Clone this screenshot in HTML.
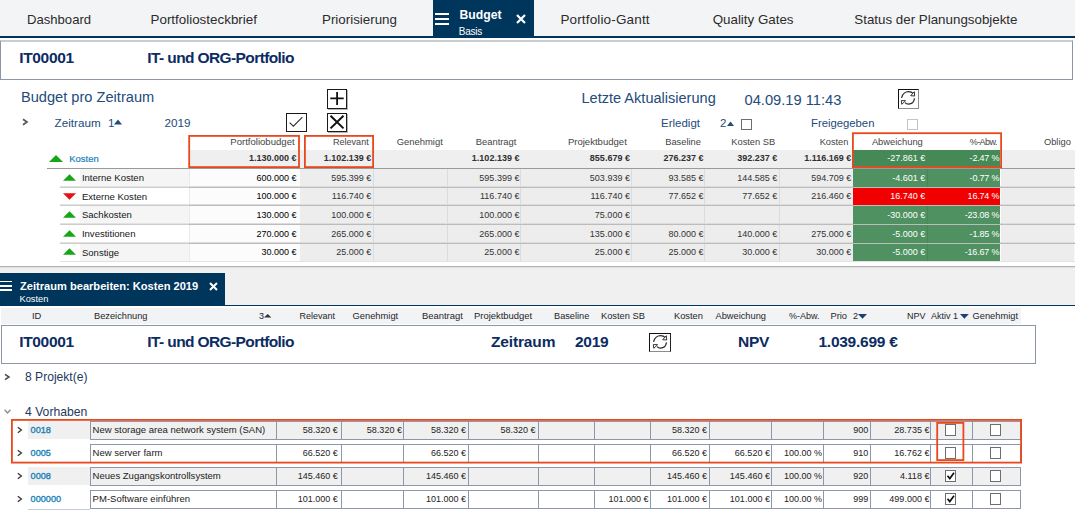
<!DOCTYPE html>
<html><head><meta charset="utf-8"><title>Budget</title>
<style>
html,body{margin:0;padding:0;}
body{width:1075px;height:514px;overflow:hidden;background:#fff;position:relative;font-family:"Liberation Sans",sans-serif;}
div{position:absolute;box-sizing:border-box;}
.t{position:absolute;white-space:pre;line-height:20px;height:20px;}
svg{position:absolute;overflow:visible;}
.cb{border:1px solid #6e6e6e;background:#fff;}
.cbd{border:1px solid #c4c4c4;background:#fff;}
.ib{border:1px solid #1a1a1a;background:#fff;}
.sh{box-shadow:1px 1px 0 #b4b4b4;}
.rb{border:1px solid;border-color:#111 #8c8c8c #8c8c8c #111;background:#fff;}
</style></head><body>
<div style="left:0px;top:0px;width:1075px;height:36px;background:#f3f4f6;"></div>
<div style="left:0px;top:36px;width:1075px;height:2px;background:#00355c;"></div>
<div style="left:433px;top:0px;width:101px;height:37px;background:#00355c;"></div>
<span class="t" style="top:10px;font-size:13.1px;color:#2b2b2b;left:27px;">Dashboard</span>
<span class="t" style="top:10px;font-size:13.4px;color:#2b2b2b;left:150.5px;">Portfoliosteckbrief</span>
<span class="t" style="top:10px;font-size:13.35px;color:#2b2b2b;left:322px;">Priorisierung</span>
<span class="t" style="top:10px;font-size:13.5px;color:#2b2b2b;letter-spacing:0.15px;left:560.4px;">Portfolio-Gantt</span>
<span class="t" style="top:10px;font-size:13.35px;color:#2b2b2b;left:712.7px;">Quality Gates</span>
<span class="t" style="top:10px;font-size:13.35px;color:#2b2b2b;left:854.3px;">Status der Planungsobjekte</span>
<div style="left:435px;top:13px;width:14px;height:2px;background:#fff;"></div>
<div style="left:435px;top:18px;width:14px;height:2px;background:#fff;"></div>
<div style="left:435px;top:23px;width:14px;height:2px;background:#fff;"></div>
<span class="t" style="top:5px;font-size:12.2px;color:#fff;font-weight:700;left:459.5px;">Budget</span>
<span class="t" style="top:22px;font-size:10px;color:#fff;letter-spacing:-0.28px;left:458.8px;">Basis</span>
<svg style="left:516px;top:14px" width="10" height="10" viewBox="0 0 10 10"><path d="M1 1 L9 9 M9 1 L1 9" stroke="#fff" stroke-width="2.2" fill="none"/></svg>
<div style="left:0px;top:40px;width:1073px;height:39.5px;background:#fff;border:1px solid #8d96a8;border-top:2px solid #c9ccd2;"></div>
<span class="t" style="top:48px;font-size:15.5px;color:#0b2c62;font-weight:700;letter-spacing:-0.325px;left:19.2px;">IT00001</span>
<span class="t" style="top:48px;font-size:15.5px;color:#0b2c62;font-weight:700;letter-spacing:-0.604px;left:147.3px;">IT- und ORG-Portfolio</span>
<span class="t" style="top:87px;font-size:14.62px;color:#234b7b;left:21px;">Budget pro Zeitraum</span>
<svg style="left:22.3px;top:117.8px" width="7" height="8" viewBox="0 0 7 8"><path d="M1 1.3 L5 4 L1 6.7" stroke="#555" stroke-width="1.7" fill="none"/></svg>
<span class="t" style="top:113px;font-size:11.7px;color:#234b7b;left:54.5px;">Zeitraum</span>
<span class="t" style="top:113px;font-size:11.7px;color:#234b7b;left:108px;">1</span>
<svg style="left:114px;top:119px" width="8" height="6" viewBox="0 0 8 6"><path d="M0 5.5 L4 0.5 L8 5.5 Z" fill="#234b7b"/></svg>
<span class="t" style="top:113px;font-size:11.7px;color:#234b7b;left:164.5px;">2019</span>
<div class="ib sh" style="left:327px;top:89px;width:20px;height:19.5px;"></div>
<svg style="left:327px;top:89px" width="20" height="19" viewBox="0 0 20 19"><path d="M10.1 3 V16 M3.3 9.4 H16.7" stroke="#111" stroke-width="1.8" fill="none"/></svg>
<div class="ib sh" style="left:327px;top:113px;width:20px;height:19px;"></div>
<svg style="left:327px;top:113px" width="20" height="19" viewBox="0 0 20 19"><path d="M3.5 2.8 L16.5 15.4 M16.5 2.8 L3.5 15.4" stroke="#111" stroke-width="2" fill="none"/></svg>
<div class="ib" style="left:286px;top:113px;width:21px;height:19px;"></div>
<svg style="left:286px;top:113px" width="21" height="19" viewBox="0 0 21 19"><path d="M3.6 9.6 L7.4 13.2 L16.4 4.2" stroke="#333" stroke-width="1.2" fill="none"/></svg>
<span class="t" style="top:88px;font-size:14.55px;color:#234b7b;left:581.5px;">Letzte Aktualisierung</span>
<span class="t" style="top:90px;font-size:14.7px;color:#234b7b;left:744.5px;">04.09.19 11:43</span>
<div class="rb" style="left:898px;top:89px;width:21px;height:19.5px;"></div>
<svg style="left:898px;top:89px" width="21" height="19" viewBox="0 0 21 19"><path d="M3.6 8.8 C4.4 4.8 7.6 2.7 10.6 2.7 C12.6 2.7 14.2 3.4 15.3 4.6 M16.5 9.3 C15.9 13 13.2 15 10.6 15 C9 15 7.8 14.4 7 13.6" stroke="#2a2a2a" stroke-width="1.25" fill="none"/><path d="M16.3 2.7 L16.7 7 L12.7 6.7 Z M3.3 11.6 L7.6 11.7 L3.8 15.3 Z" stroke="#333" stroke-width="1" fill="#fff" stroke-linejoin="round"/></svg>
<span class="t" style="top:113px;font-size:11.5px;color:#234b7b;left:661px;">Erledigt</span>
<span class="t" style="top:113px;font-size:11.5px;color:#234b7b;left:720px;">2</span>
<svg style="left:727px;top:120.5px" width="7" height="5" viewBox="0 0 7 5"><path d="M0 5 L3.5 0.5 L7 5 Z" fill="#234b7b"/></svg>
<div class="cb" style="left:741px;top:119px;width:11px;height:11px;"></div>
<span class="t" style="top:113px;font-size:11.3px;color:#234b7b;left:811px;">Freigegeben</span>
<div class="cbd" style="left:907px;top:118.6px;width:11px;height:11px;"></div>
<span class="t" style="top:132px;font-size:9.57px;color:#444;right:780.4px;">Portfoliobudget</span>
<span class="t" style="top:132px;font-size:9.05px;color:#444;right:706.3px;">Relevant</span>
<span class="t" style="top:132px;font-size:9.44px;color:#444;right:632.2px;">Genehmigt</span>
<span class="t" style="top:132px;font-size:9.39px;color:#444;right:558.6px;">Beantragt</span>
<span class="t" style="top:132px;font-size:9.56px;color:#444;right:448.2px;">Projektbudget</span>
<span class="t" style="top:132px;font-size:9.31px;color:#444;right:374.1px;">Baseline</span>
<span class="t" style="top:132px;font-size:9.31px;color:#444;right:299.8px;">Kosten SB</span>
<span class="t" style="top:132px;font-size:9.19px;color:#444;right:226.7px;">Kosten</span>
<span class="t" style="top:132px;font-size:9.36px;color:#444;right:152.2px;">Abweichung</span>
<span class="t" style="top:132px;font-size:9.0px;color:#444;letter-spacing:-0.55px;right:78.1px;">%-Abw.</span>
<span class="t" style="top:132px;font-size:9.31px;color:#444;right:4.2px;">Obligo</span>
<div style="left:189px;top:150px;width:886px;height:18px;background:#efefef;"></div>
<div style="left:853px;top:150px;width:147.3px;height:18px;background:#458a56;"></div>
<svg style="left:49px;top:154.5px" width="14" height="7" viewBox="0 0 14 7"><path d="M0 7 L7 0 L14 7 Z" fill="#16a616"/></svg>
<span class="t" style="top:149px;font-size:9.45px;color:#1a7fb9;left:69.3px;-webkit-text-stroke:0.2px #1a7fb9;">Kosten</span>
<span class="t" style="top:148px;font-size:9.0px;color:#303030;font-weight:700;right:778.4px;">1.130.000 €</span>
<span class="t" style="top:148px;font-size:9.0px;color:#303030;font-weight:700;right:703.8px;">1.102.139 €</span>
<span class="t" style="top:148px;font-size:9.0px;color:#303030;font-weight:700;right:555.6px;">1.102.139 €</span>
<span class="t" style="top:148px;font-size:9.0px;color:#303030;font-weight:700;right:445.1px;">855.679 €</span>
<span class="t" style="top:148px;font-size:9.0px;color:#303030;font-weight:700;right:371.5px;">276.237 €</span>
<span class="t" style="top:148px;font-size:9.0px;color:#303030;font-weight:700;right:297.8px;">392.237 €</span>
<span class="t" style="top:148px;font-size:9.0px;color:#303030;font-weight:700;right:223.8px;">1.116.169 €</span>
<span class="t" style="top:148px;font-size:9.0px;color:#fff;right:149.7px;">-27.861 €</span>
<span class="t" style="top:148px;font-size:9.0px;color:#fff;letter-spacing:-0.2px;right:75.8px;">-2.47 %</span>
<div style="left:80px;top:169px;width:109px;height:18px;background:#f5f5f5;"></div>
<div style="left:300px;top:169px;width:553px;height:18px;background:#ededed;"></div>
<div style="left:1001px;top:169px;width:73px;height:18px;background:#ededed;"></div>
<div style="left:1074px;top:169px;width:1px;height:18px;background:#fafafa;"></div>
<div style="left:189px;top:169px;width:111px;height:18px;background:#fcfcfc;border-left:1px solid #e9e9e9;"></div>
<div style="left:373px;top:169px;width:1px;height:18px;background:#dcdcdc;"></div>
<div style="left:447px;top:169px;width:1px;height:18px;background:#dcdcdc;"></div>
<div style="left:520px;top:169px;width:1px;height:18px;background:#dcdcdc;"></div>
<div style="left:631px;top:169px;width:1px;height:18px;background:#dcdcdc;"></div>
<div style="left:704px;top:169px;width:1px;height:18px;background:#dcdcdc;"></div>
<div style="left:779px;top:169px;width:1px;height:18px;background:#dcdcdc;"></div>
<div style="left:60px;top:186px;width:129px;height:1px;background:#e2e2e2;"></div>
<div style="left:60px;top:187px;width:129px;height:1px;background:#cdcdcd;"></div>
<div style="left:189px;top:186px;width:886px;height:1px;background:#dcdcdc;"></div>
<div style="left:189px;top:187px;width:886px;height:1px;background:#bcbcbc;"></div>
<div style="left:853px;top:169px;width:147.3px;height:18px;background:#4f9161;"></div>
<div style="left:927px;top:169px;width:1px;height:18px;background:#458757;"></div>
<svg style="left:63px;top:173.5px" width="13" height="7" viewBox="0 0 14 7"><path d="M0 7 L7 0 L14 7 Z" fill="#16a616"/></svg>
<span class="t" style="top:168px;font-size:9.55px;color:#151515;left:81.9px;">Interne Kosten</span>
<span class="t" style="top:168px;font-size:9.0px;color:#000;right:778.4px;">600.000 €</span>
<span class="t" style="top:168px;font-size:9.0px;color:#333;right:703.8px;">595.399 €</span>
<span class="t" style="top:168px;font-size:9.0px;color:#333;right:555.6px;">595.399 €</span>
<span class="t" style="top:168px;font-size:9.0px;color:#333;right:445.1px;">503.939 €</span>
<span class="t" style="top:168px;font-size:9.0px;color:#333;right:371.5px;">93.585 €</span>
<span class="t" style="top:168px;font-size:9.0px;color:#333;right:297.8px;">144.585 €</span>
<span class="t" style="top:168px;font-size:9.0px;color:#333;right:223.8px;">594.709 €</span>
<span class="t" style="top:168px;font-size:9.0px;color:#fff;right:149.7px;">-4.601 €</span>
<span class="t" style="top:168px;font-size:9.0px;color:#fff;letter-spacing:-0.2px;right:75.8px;">-0.77 %</span>
<div style="left:300px;top:188px;width:553px;height:17px;background:#ededed;"></div>
<div style="left:1001px;top:188px;width:73px;height:17px;background:#ededed;"></div>
<div style="left:1074px;top:188px;width:1px;height:17px;background:#fafafa;"></div>
<div style="left:189px;top:188px;width:111px;height:17px;background:#fcfcfc;border-left:1px solid #e9e9e9;"></div>
<div style="left:373px;top:188px;width:1px;height:17px;background:#dcdcdc;"></div>
<div style="left:447px;top:188px;width:1px;height:17px;background:#dcdcdc;"></div>
<div style="left:520px;top:188px;width:1px;height:17px;background:#dcdcdc;"></div>
<div style="left:631px;top:188px;width:1px;height:17px;background:#dcdcdc;"></div>
<div style="left:704px;top:188px;width:1px;height:17px;background:#dcdcdc;"></div>
<div style="left:779px;top:188px;width:1px;height:17px;background:#dcdcdc;"></div>
<div style="left:60px;top:204px;width:129px;height:1px;background:#e2e2e2;"></div>
<div style="left:60px;top:205px;width:129px;height:1px;background:#cdcdcd;"></div>
<div style="left:189px;top:204px;width:886px;height:1px;background:#dcdcdc;"></div>
<div style="left:189px;top:205px;width:886px;height:1px;background:#bcbcbc;"></div>
<div style="left:853px;top:188px;width:147.3px;height:17px;background:#f00000;"></div>
<svg style="left:63px;top:192.8px" width="13" height="7" viewBox="0 0 14 7"><path d="M0 0 L7 7 L14 0 Z" fill="#e81010"/></svg>
<span class="t" style="top:187px;font-size:9.55px;color:#151515;left:81.9px;">Externe Kosten</span>
<span class="t" style="top:186px;font-size:9.0px;color:#000;right:778.4px;">100.000 €</span>
<span class="t" style="top:186px;font-size:9.0px;color:#333;right:703.8px;">116.740 €</span>
<span class="t" style="top:186px;font-size:9.0px;color:#333;right:555.6px;">116.740 €</span>
<span class="t" style="top:186px;font-size:9.0px;color:#333;right:445.1px;">116.740 €</span>
<span class="t" style="top:186px;font-size:9.0px;color:#333;right:371.5px;">77.652 €</span>
<span class="t" style="top:186px;font-size:9.0px;color:#333;right:297.8px;">77.652 €</span>
<span class="t" style="top:186px;font-size:9.0px;color:#333;right:223.8px;">216.460 €</span>
<span class="t" style="top:186px;font-size:9.0px;color:#fff;right:149.7px;">16.740 €</span>
<span class="t" style="top:186px;font-size:9.0px;color:#fff;letter-spacing:-0.2px;right:75.8px;">16.74 %</span>
<div style="left:80px;top:206px;width:109px;height:18px;background:#f5f5f5;"></div>
<div style="left:300px;top:206px;width:553px;height:18px;background:#ededed;"></div>
<div style="left:1001px;top:206px;width:73px;height:18px;background:#ededed;"></div>
<div style="left:1074px;top:206px;width:1px;height:18px;background:#fafafa;"></div>
<div style="left:189px;top:206px;width:111px;height:18px;background:#fcfcfc;border-left:1px solid #e9e9e9;"></div>
<div style="left:373px;top:206px;width:1px;height:18px;background:#dcdcdc;"></div>
<div style="left:447px;top:206px;width:1px;height:18px;background:#dcdcdc;"></div>
<div style="left:520px;top:206px;width:1px;height:18px;background:#dcdcdc;"></div>
<div style="left:631px;top:206px;width:1px;height:18px;background:#dcdcdc;"></div>
<div style="left:704px;top:206px;width:1px;height:18px;background:#dcdcdc;"></div>
<div style="left:779px;top:206px;width:1px;height:18px;background:#dcdcdc;"></div>
<div style="left:60px;top:223px;width:129px;height:1px;background:#e2e2e2;"></div>
<div style="left:60px;top:224px;width:129px;height:1px;background:#cdcdcd;"></div>
<div style="left:189px;top:223px;width:886px;height:1px;background:#dcdcdc;"></div>
<div style="left:189px;top:224px;width:886px;height:1px;background:#bcbcbc;"></div>
<div style="left:853px;top:206px;width:147.3px;height:18px;background:#4f9161;"></div>
<div style="left:927px;top:206px;width:1px;height:18px;background:#458757;"></div>
<svg style="left:63px;top:210.5px" width="13" height="7" viewBox="0 0 14 7"><path d="M0 7 L7 0 L14 7 Z" fill="#16a616"/></svg>
<span class="t" style="top:205px;font-size:9.55px;color:#151515;left:81.9px;">Sachkosten</span>
<span class="t" style="top:205px;font-size:9.0px;color:#000;right:778.4px;">130.000 €</span>
<span class="t" style="top:205px;font-size:9.0px;color:#333;right:703.8px;">100.000 €</span>
<span class="t" style="top:205px;font-size:9.0px;color:#333;right:555.6px;">100.000 €</span>
<span class="t" style="top:205px;font-size:9.0px;color:#333;right:445.1px;">75.000 €</span>
<span class="t" style="top:205px;font-size:9.0px;color:#fff;right:149.7px;">-30.000 €</span>
<span class="t" style="top:205px;font-size:9.0px;color:#fff;letter-spacing:-0.2px;right:75.8px;">-23.08 %</span>
<div style="left:300px;top:225px;width:553px;height:18px;background:#ededed;"></div>
<div style="left:1001px;top:225px;width:73px;height:18px;background:#ededed;"></div>
<div style="left:1074px;top:225px;width:1px;height:18px;background:#fafafa;"></div>
<div style="left:189px;top:225px;width:111px;height:18px;background:#fcfcfc;border-left:1px solid #e9e9e9;"></div>
<div style="left:373px;top:225px;width:1px;height:18px;background:#dcdcdc;"></div>
<div style="left:447px;top:225px;width:1px;height:18px;background:#dcdcdc;"></div>
<div style="left:520px;top:225px;width:1px;height:18px;background:#dcdcdc;"></div>
<div style="left:631px;top:225px;width:1px;height:18px;background:#dcdcdc;"></div>
<div style="left:704px;top:225px;width:1px;height:18px;background:#dcdcdc;"></div>
<div style="left:779px;top:225px;width:1px;height:18px;background:#dcdcdc;"></div>
<div style="left:60px;top:242px;width:129px;height:1px;background:#e2e2e2;"></div>
<div style="left:60px;top:243px;width:129px;height:1px;background:#cdcdcd;"></div>
<div style="left:189px;top:242px;width:886px;height:1px;background:#dcdcdc;"></div>
<div style="left:189px;top:243px;width:886px;height:1px;background:#bcbcbc;"></div>
<div style="left:853px;top:225px;width:147.3px;height:18px;background:#4f9161;"></div>
<div style="left:927px;top:225px;width:1px;height:18px;background:#458757;"></div>
<svg style="left:63px;top:229.5px" width="13" height="7" viewBox="0 0 14 7"><path d="M0 7 L7 0 L14 7 Z" fill="#16a616"/></svg>
<span class="t" style="top:224px;font-size:9.55px;color:#151515;left:81.9px;">Investitionen</span>
<span class="t" style="top:224px;font-size:9.0px;color:#000;right:778.4px;">270.000 €</span>
<span class="t" style="top:224px;font-size:9.0px;color:#333;right:703.8px;">265.000 €</span>
<span class="t" style="top:224px;font-size:9.0px;color:#333;right:555.6px;">265.000 €</span>
<span class="t" style="top:224px;font-size:9.0px;color:#333;right:445.1px;">135.000 €</span>
<span class="t" style="top:224px;font-size:9.0px;color:#333;right:371.5px;">80.000 €</span>
<span class="t" style="top:224px;font-size:9.0px;color:#333;right:297.8px;">140.000 €</span>
<span class="t" style="top:224px;font-size:9.0px;color:#333;right:223.8px;">275.000 €</span>
<span class="t" style="top:224px;font-size:9.0px;color:#fff;right:149.7px;">-5.000 €</span>
<span class="t" style="top:224px;font-size:9.0px;color:#fff;letter-spacing:-0.2px;right:75.8px;">-1.85 %</span>
<div style="left:80px;top:244px;width:109px;height:17px;background:#f5f5f5;"></div>
<div style="left:300px;top:244px;width:553px;height:17px;background:#ededed;"></div>
<div style="left:1001px;top:244px;width:73px;height:17px;background:#ededed;"></div>
<div style="left:1074px;top:244px;width:1px;height:17px;background:#fafafa;"></div>
<div style="left:189px;top:244px;width:111px;height:17px;background:#fcfcfc;border-left:1px solid #e9e9e9;"></div>
<div style="left:373px;top:244px;width:1px;height:17px;background:#dcdcdc;"></div>
<div style="left:447px;top:244px;width:1px;height:17px;background:#dcdcdc;"></div>
<div style="left:520px;top:244px;width:1px;height:17px;background:#dcdcdc;"></div>
<div style="left:631px;top:244px;width:1px;height:17px;background:#dcdcdc;"></div>
<div style="left:704px;top:244px;width:1px;height:17px;background:#dcdcdc;"></div>
<div style="left:779px;top:244px;width:1px;height:17px;background:#dcdcdc;"></div>
<div style="left:60px;top:261px;width:1015px;height:1px;background:#e2e2e2;"></div>
<div style="left:853px;top:244px;width:147.3px;height:17px;background:#4f9161;"></div>
<div style="left:927px;top:244px;width:1px;height:17px;background:#458757;"></div>
<svg style="left:63px;top:248.0px" width="13" height="7" viewBox="0 0 14 7"><path d="M0 7 L7 0 L14 7 Z" fill="#16a616"/></svg>
<span class="t" style="top:243px;font-size:9.55px;color:#151515;left:81.9px;">Sonstige</span>
<span class="t" style="top:242px;font-size:9.0px;color:#000;right:778.4px;">30.000 €</span>
<span class="t" style="top:242px;font-size:9.0px;color:#333;right:703.8px;">25.000 €</span>
<span class="t" style="top:242px;font-size:9.0px;color:#333;right:555.6px;">25.000 €</span>
<span class="t" style="top:242px;font-size:9.0px;color:#333;right:445.1px;">25.000 €</span>
<span class="t" style="top:242px;font-size:9.0px;color:#333;right:371.5px;">25.000 €</span>
<span class="t" style="top:242px;font-size:9.0px;color:#333;right:297.8px;">30.000 €</span>
<span class="t" style="top:242px;font-size:9.0px;color:#333;right:223.8px;">30.000 €</span>
<span class="t" style="top:242px;font-size:9.0px;color:#fff;right:149.7px;">-5.000 €</span>
<span class="t" style="top:242px;font-size:9.0px;color:#fff;letter-spacing:-0.2px;right:75.8px;">-16.67 %</span>
<div style="left:47px;top:168px;width:1028px;height:1px;background:#9a9a9a;"></div>
<svg style="left:0;top:0" width="1075" height="514"><rect x="189.20000000000002" y="135.9" width="109.8" height="31.2" fill="none" stroke="#e8481c" stroke-width="1.8"/></svg>
<svg style="left:0;top:0" width="1075" height="514"><rect x="304.9" y="135.9" width="68.2" height="31.2" fill="none" stroke="#e8481c" stroke-width="1.8"/></svg>
<svg style="left:0;top:0" width="1075" height="514"><rect x="852.9" y="133.20000000000002" width="148.2" height="33.900000000000006" fill="none" stroke="#e8481c" stroke-width="1.8"/></svg>
<div style="left:0px;top:265.6px;width:1075px;height:1.2px;background:#b4b4b8;"></div>
<div style="left:0px;top:266.8px;width:1075px;height:1px;background:#e0e0e0;"></div>
<div style="left:0px;top:267.8px;width:1075px;height:37px;background:#f0f0f0;"></div>
<div style="left:0px;top:304.5px;width:1075px;height:1.8px;background:#00355c;"></div>
<div style="left:0px;top:272.5px;width:225px;height:32.5px;background:#00355c;"></div>
<div style="left:0px;top:280.6px;width:12px;height:1.7px;background:#fff;"></div>
<div style="left:0px;top:285.0px;width:12px;height:1.7px;background:#fff;"></div>
<div style="left:0px;top:289.4px;width:12px;height:1.7px;background:#fff;"></div>
<span class="t" style="top:276px;font-size:11.1px;color:#fff;font-weight:700;left:20px;">Zeitraum bearbeiten: Kosten 2019</span>
<span class="t" style="top:289px;font-size:9.3px;color:#fff;left:19.5px;">Kosten</span>
<svg style="left:209px;top:282px" width="9" height="9" viewBox="0 0 9 9"><path d="M1 1 L8 8 M8 1 L1 8" stroke="#fff" stroke-width="2" fill="none"/></svg>
<div style="left:1px;top:308px;width:1020px;height:16px;background:#f2f3f5;"></div>
<span class="t" style="top:306px;font-size:9.33px;color:#262626;left:32px;">ID</span>
<span class="t" style="top:306px;font-size:9.25px;color:#262626;left:94px;">Bezeichnung</span>
<span class="t" style="top:306px;font-size:9px;color:#262626;left:259px;">3</span>
<svg style="left:263.6px;top:314px" width="7.4" height="3.6" viewBox="0 0 7.4 3.6"><path d="M0 3.6 L3.7 0 L7.4 3.6 Z" fill="#333"/></svg>
<span class="t" style="top:306px;font-size:9.0px;color:#262626;left:299.5px;">Relevant</span>
<span class="t" style="top:306px;font-size:9.36px;color:#262626;left:352.5px;">Genehmigt</span>
<span class="t" style="top:306px;font-size:9.41px;color:#262626;left:422px;">Beantragt</span>
<span class="t" style="top:306px;font-size:9.45px;color:#262626;left:474px;">Projektbudget</span>
<span class="t" style="top:306px;font-size:9.2px;color:#262626;left:554px;">Baseline</span>
<span class="t" style="top:306px;font-size:9.31px;color:#262626;left:601px;">Kosten SB</span>
<span class="t" style="top:306px;font-size:9.3px;color:#262626;left:674px;">Kosten</span>
<span class="t" style="top:306px;font-size:9.27px;color:#262626;left:715.5px;">Abweichung</span>
<span class="t" style="top:306px;font-size:9.0px;color:#262626;left:789px;">%-Abw.</span>
<span class="t" style="top:306px;font-size:9.3px;color:#262626;left:830.5px;">Prio</span>
<span class="t" style="top:306px;font-size:9.0px;color:#262626;left:853px;">2</span>
<svg style="left:857.7px;top:313.8px" width="9" height="4.7" viewBox="0 0 9 4.7"><path d="M0 0 L4.5 4.7 L9 0 Z" fill="#1f3f6c"/></svg>
<span class="t" style="top:306px;font-size:9.0px;color:#262626;left:907px;">NPV</span>
<span class="t" style="top:306px;font-size:9.0px;color:#262626;left:931px;">Aktiv 1</span>
<svg style="left:959.6px;top:313.8px" width="8.8" height="4.7" viewBox="0 0 9 4.7"><path d="M0 0 L4.5 4.7 L9 0 Z" fill="#1f3f6c"/></svg>
<span class="t" style="top:306px;font-size:9.3px;color:#262626;left:972.5px;">Genehmigt</span>
<div style="left:1px;top:325px;width:1035px;height:39px;background:#fff;border:1px solid #8d96a8;"></div>
<span class="t" style="top:332px;font-size:15.5px;color:#0b2c62;font-weight:700;letter-spacing:-0.325px;left:19.2px;">IT00001</span>
<span class="t" style="top:332px;font-size:15.5px;color:#0b2c62;font-weight:700;letter-spacing:-0.604px;left:147.3px;">IT- und ORG-Portfolio</span>
<span class="t" style="top:332px;font-size:15.5px;color:#0b2c62;font-weight:700;letter-spacing:-0.145px;left:491px;">Zeitraum</span>
<span class="t" style="top:332px;font-size:15.5px;color:#0b2c62;font-weight:700;letter-spacing:-0.296px;left:575px;">2019</span>
<div class="rb" style="left:649px;top:333px;width:22px;height:19px;border-right-color:#222;"></div>
<svg style="left:649.9px;top:333px" width="21" height="19" viewBox="0 0 21 19"><path d="M3.6 8.8 C4.4 4.8 7.6 2.7 10.6 2.7 C12.6 2.7 14.2 3.4 15.3 4.6 M16.5 9.3 C15.9 13 13.2 15 10.6 15 C9 15 7.8 14.4 7 13.6" stroke="#2a2a2a" stroke-width="1.25" fill="none"/><path d="M16.3 2.7 L16.7 7 L12.7 6.7 Z M3.3 11.6 L7.6 11.7 L3.8 15.3 Z" stroke="#333" stroke-width="1" fill="#fff" stroke-linejoin="round"/></svg>
<span class="t" style="top:332px;font-size:15.5px;color:#0b2c62;font-weight:700;letter-spacing:-0.291px;left:738px;">NPV</span>
<span class="t" style="top:332px;font-size:15.5px;color:#0b2c62;font-weight:700;letter-spacing:-0.262px;left:818.5px;">1.039.699 €</span>
<svg style="left:3.6px;top:372.7px" width="7" height="8" viewBox="0 0 7 8"><path d="M1 1.4 L5 4 L1 6.6" stroke="#4a4a4a" stroke-width="1.5" fill="none"/></svg>
<span class="t" style="top:367px;font-size:12.1px;color:#1e395e;left:25px;">8 Projekt(e)</span>
<svg style="left:4px;top:409px" width="7" height="5" viewBox="0 0 7 5"><path d="M0.6 0.8 L3.5 4 L6.4 0.8" stroke="#909090" stroke-width="1.5" fill="none"/></svg>
<span class="t" style="top:402px;font-size:12.2px;color:#1e395e;left:25px;">4 Vorhaben</span>
<div style="left:27.5px;top:420.5px;width:62px;height:18px;background:#f0f0f0;"></div>
<div style="left:89.5px;top:420.5px;width:931.5px;height:19px;background:#f0f0f0;border:1px solid #8e97a9;"></div>
<div style="left:276px;top:420.5px;width:1px;height:19px;background:#8e97a9;"></div>
<div style="left:340.5px;top:420.5px;width:1px;height:19px;background:#8e97a9;"></div>
<div style="left:403px;top:420.5px;width:1px;height:19px;background:#8e97a9;"></div>
<div style="left:467.5px;top:420.5px;width:1px;height:19px;background:#8e97a9;"></div>
<div style="left:537.5px;top:420.5px;width:1px;height:19px;background:#8e97a9;"></div>
<div style="left:594px;top:420.5px;width:1px;height:19px;background:#8e97a9;"></div>
<div style="left:650px;top:420.5px;width:1px;height:19px;background:#8e97a9;"></div>
<div style="left:708.5px;top:420.5px;width:1px;height:19px;background:#8e97a9;"></div>
<div style="left:770.5px;top:420.5px;width:1px;height:19px;background:#8e97a9;"></div>
<div style="left:823px;top:420.5px;width:1px;height:19px;background:#8e97a9;"></div>
<div style="left:870px;top:420.5px;width:1px;height:19px;background:#8e97a9;"></div>
<div style="left:930px;top:420.5px;width:1px;height:19px;background:#8e97a9;"></div>
<div style="left:971.5px;top:420.5px;width:1px;height:19px;background:#8e97a9;"></div>
<svg style="left:17.3px;top:426.0px" width="6" height="8" viewBox="0 0 6 8"><path d="M0.8 1.2 L4.4 4 L0.8 6.8" stroke="#3a3a3a" stroke-width="1.35" fill="none"/></svg>
<span class="t" style="top:420px;font-size:9.15px;color:#1a7fb9;left:30.6px;-webkit-text-stroke:0.35px #1a7fb9;">0018</span>
<span class="t" style="top:420px;font-size:9.54px;color:#222;left:92.6px;">New storage area network system (SAN)</span>
<span class="t" style="top:420px;font-size:9.0px;color:#222;right:737.2px;">58.320 €</span>
<span class="t" style="top:420px;font-size:9.0px;color:#222;right:673.1px;">58.320 €</span>
<span class="t" style="top:420px;font-size:9.0px;color:#222;right:609px;">58.320 €</span>
<span class="t" style="top:420px;font-size:9.0px;color:#222;right:539.4px;">58.320 €</span>
<span class="t" style="top:420px;font-size:9.0px;color:#222;right:367.9px;">58.320 €</span>
<span class="t" style="top:420px;font-size:9.0px;color:#222;right:206.7px;">900</span>
<span class="t" style="top:420px;font-size:9.0px;color:#222;right:145.6px;">28.735 €</span>
<div class="cb" style="left:944.5px;top:424.0px;width:11.5px;height:11.5px;"></div>
<div class="cb" style="left:989.5px;top:424.0px;width:11.5px;height:11.5px;"></div>
<div style="left:89.5px;top:443.5px;width:931.5px;height:19px;background:#fff;border:1px solid #8e97a9;"></div>
<div style="left:276px;top:443.5px;width:1px;height:19px;background:#8e97a9;"></div>
<div style="left:340.5px;top:443.5px;width:1px;height:19px;background:#8e97a9;"></div>
<div style="left:403px;top:443.5px;width:1px;height:19px;background:#8e97a9;"></div>
<div style="left:467.5px;top:443.5px;width:1px;height:19px;background:#8e97a9;"></div>
<div style="left:537.5px;top:443.5px;width:1px;height:19px;background:#8e97a9;"></div>
<div style="left:594px;top:443.5px;width:1px;height:19px;background:#8e97a9;"></div>
<div style="left:650px;top:443.5px;width:1px;height:19px;background:#8e97a9;"></div>
<div style="left:708.5px;top:443.5px;width:1px;height:19px;background:#8e97a9;"></div>
<div style="left:770.5px;top:443.5px;width:1px;height:19px;background:#8e97a9;"></div>
<div style="left:823px;top:443.5px;width:1px;height:19px;background:#8e97a9;"></div>
<div style="left:870px;top:443.5px;width:1px;height:19px;background:#8e97a9;"></div>
<div style="left:930px;top:443.5px;width:1px;height:19px;background:#8e97a9;"></div>
<div style="left:971.5px;top:443.5px;width:1px;height:19px;background:#8e97a9;"></div>
<svg style="left:17.3px;top:449.0px" width="6" height="8" viewBox="0 0 6 8"><path d="M0.8 1.2 L4.4 4 L0.8 6.8" stroke="#3a3a3a" stroke-width="1.35" fill="none"/></svg>
<span class="t" style="top:443px;font-size:9.15px;color:#1a7fb9;left:30.6px;-webkit-text-stroke:0.35px #1a7fb9;">0005</span>
<span class="t" style="top:443px;font-size:9.54px;color:#222;left:92.6px;">New server farm</span>
<span class="t" style="top:443px;font-size:9.0px;color:#222;right:737.2px;">66.520 €</span>
<span class="t" style="top:443px;font-size:9.0px;color:#222;right:609px;">66.520 €</span>
<span class="t" style="top:443px;font-size:9.0px;color:#222;right:367.9px;">66.520 €</span>
<span class="t" style="top:443px;font-size:9.0px;color:#222;right:305.1px;">66.520 €</span>
<span class="t" style="top:443px;font-size:9.0px;color:#222;right:252.9px;">100.00 %</span>
<span class="t" style="top:443px;font-size:9.0px;color:#222;right:206.7px;">910</span>
<span class="t" style="top:443px;font-size:9.0px;color:#222;right:145.6px;">16.762 €</span>
<div class="cb" style="left:944.5px;top:447.0px;width:11.5px;height:11.5px;"></div>
<div class="cb" style="left:989.5px;top:447.0px;width:11.5px;height:11.5px;"></div>
<div style="left:27.5px;top:466.5px;width:62px;height:18px;background:#f0f0f0;"></div>
<div style="left:89.5px;top:466.5px;width:931.5px;height:19px;background:#f0f0f0;border:1px solid #8e97a9;"></div>
<div style="left:276px;top:466.5px;width:1px;height:19px;background:#8e97a9;"></div>
<div style="left:340.5px;top:466.5px;width:1px;height:19px;background:#8e97a9;"></div>
<div style="left:403px;top:466.5px;width:1px;height:19px;background:#8e97a9;"></div>
<div style="left:467.5px;top:466.5px;width:1px;height:19px;background:#8e97a9;"></div>
<div style="left:537.5px;top:466.5px;width:1px;height:19px;background:#8e97a9;"></div>
<div style="left:594px;top:466.5px;width:1px;height:19px;background:#8e97a9;"></div>
<div style="left:650px;top:466.5px;width:1px;height:19px;background:#8e97a9;"></div>
<div style="left:708.5px;top:466.5px;width:1px;height:19px;background:#8e97a9;"></div>
<div style="left:770.5px;top:466.5px;width:1px;height:19px;background:#8e97a9;"></div>
<div style="left:823px;top:466.5px;width:1px;height:19px;background:#8e97a9;"></div>
<div style="left:870px;top:466.5px;width:1px;height:19px;background:#8e97a9;"></div>
<div style="left:930px;top:466.5px;width:1px;height:19px;background:#8e97a9;"></div>
<div style="left:971.5px;top:466.5px;width:1px;height:19px;background:#8e97a9;"></div>
<svg style="left:17.3px;top:472.0px" width="6" height="8" viewBox="0 0 6 8"><path d="M0.8 1.2 L4.4 4 L0.8 6.8" stroke="#3a3a3a" stroke-width="1.35" fill="none"/></svg>
<span class="t" style="top:466px;font-size:9.15px;color:#1a7fb9;left:30.6px;-webkit-text-stroke:0.35px #1a7fb9;">0008</span>
<span class="t" style="top:466px;font-size:9.54px;color:#222;left:92.6px;">Neues Zugangskontrollsystem</span>
<span class="t" style="top:466px;font-size:9.0px;color:#222;right:737.2px;">145.460 €</span>
<span class="t" style="top:466px;font-size:9.0px;color:#222;right:609px;">145.460 €</span>
<span class="t" style="top:466px;font-size:9.0px;color:#222;right:367.9px;">145.460 €</span>
<span class="t" style="top:466px;font-size:9.0px;color:#222;right:305.1px;">145.460 €</span>
<span class="t" style="top:466px;font-size:9.0px;color:#222;right:252.9px;">100.00 %</span>
<span class="t" style="top:466px;font-size:9.0px;color:#222;right:206.7px;">920</span>
<span class="t" style="top:466px;font-size:9.0px;color:#222;right:145.6px;">4.118 €</span>
<div class="cb" style="left:944.5px;top:470.0px;width:11.5px;height:11.5px;"></div>
<div class="cb" style="left:989.5px;top:470.0px;width:11.5px;height:11.5px;"></div>
<svg style="left:944.5px;top:470.0px" width="11.5" height="11.5" viewBox="0 0 11.5 11.5"><path d="M2.5 5.8 L4.8 8.6 L9 2.8" stroke="#111" stroke-width="1.7" fill="none"/></svg>
<div style="left:89.5px;top:489.5px;width:931.5px;height:19px;background:#fff;border:1px solid #8e97a9;"></div>
<div style="left:276px;top:489.5px;width:1px;height:19px;background:#8e97a9;"></div>
<div style="left:340.5px;top:489.5px;width:1px;height:19px;background:#8e97a9;"></div>
<div style="left:403px;top:489.5px;width:1px;height:19px;background:#8e97a9;"></div>
<div style="left:467.5px;top:489.5px;width:1px;height:19px;background:#8e97a9;"></div>
<div style="left:537.5px;top:489.5px;width:1px;height:19px;background:#8e97a9;"></div>
<div style="left:594px;top:489.5px;width:1px;height:19px;background:#8e97a9;"></div>
<div style="left:650px;top:489.5px;width:1px;height:19px;background:#8e97a9;"></div>
<div style="left:708.5px;top:489.5px;width:1px;height:19px;background:#8e97a9;"></div>
<div style="left:770.5px;top:489.5px;width:1px;height:19px;background:#8e97a9;"></div>
<div style="left:823px;top:489.5px;width:1px;height:19px;background:#8e97a9;"></div>
<div style="left:870px;top:489.5px;width:1px;height:19px;background:#8e97a9;"></div>
<div style="left:930px;top:489.5px;width:1px;height:19px;background:#8e97a9;"></div>
<div style="left:971.5px;top:489.5px;width:1px;height:19px;background:#8e97a9;"></div>
<svg style="left:17.3px;top:495.0px" width="6" height="8" viewBox="0 0 6 8"><path d="M0.8 1.2 L4.4 4 L0.8 6.8" stroke="#3a3a3a" stroke-width="1.35" fill="none"/></svg>
<span class="t" style="top:489px;font-size:9.15px;color:#1a7fb9;left:30.6px;-webkit-text-stroke:0.35px #1a7fb9;">000000</span>
<span class="t" style="top:489px;font-size:9.54px;color:#222;left:92.6px;">PM-Software einführen</span>
<span class="t" style="top:489px;font-size:9.0px;color:#222;right:737.2px;">101.000 €</span>
<span class="t" style="top:489px;font-size:9.0px;color:#222;right:609px;">101.000 €</span>
<span class="t" style="top:489px;font-size:9.0px;color:#222;right:426.5px;">101.000 €</span>
<span class="t" style="top:489px;font-size:9.0px;color:#222;right:367.9px;">101.000 €</span>
<span class="t" style="top:489px;font-size:9.0px;color:#222;right:305.1px;">101.000 €</span>
<span class="t" style="top:489px;font-size:9.0px;color:#222;right:252.9px;">100.00 %</span>
<span class="t" style="top:489px;font-size:9.0px;color:#222;right:206.7px;">999</span>
<span class="t" style="top:489px;font-size:9.0px;color:#222;right:145.6px;">499.000 €</span>
<div class="cb" style="left:944.5px;top:493.0px;width:11.5px;height:11.5px;"></div>
<div class="cb" style="left:989.5px;top:493.0px;width:11.5px;height:11.5px;"></div>
<svg style="left:944.5px;top:493.0px" width="11.5" height="11.5" viewBox="0 0 11.5 11.5"><path d="M2.5 5.8 L4.8 8.6 L9 2.8" stroke="#111" stroke-width="1.7" fill="none"/></svg>
<div style="left:27.5px;top:508.5px;width:62px;height:1px;background:#c5ccd8;"></div>
<svg style="left:0;top:0" width="1075" height="514"><rect x="11.9" y="419.9" width="1009.2" height="42.7" fill="none" stroke="#e8481c" stroke-width="1.8"/></svg>
<svg style="left:0;top:0" width="1075" height="514"><rect x="937.1999999999999" y="422.9" width="26.2" height="37.2" fill="none" stroke="#e8481c" stroke-width="1.8"/></svg>
</body></html>
